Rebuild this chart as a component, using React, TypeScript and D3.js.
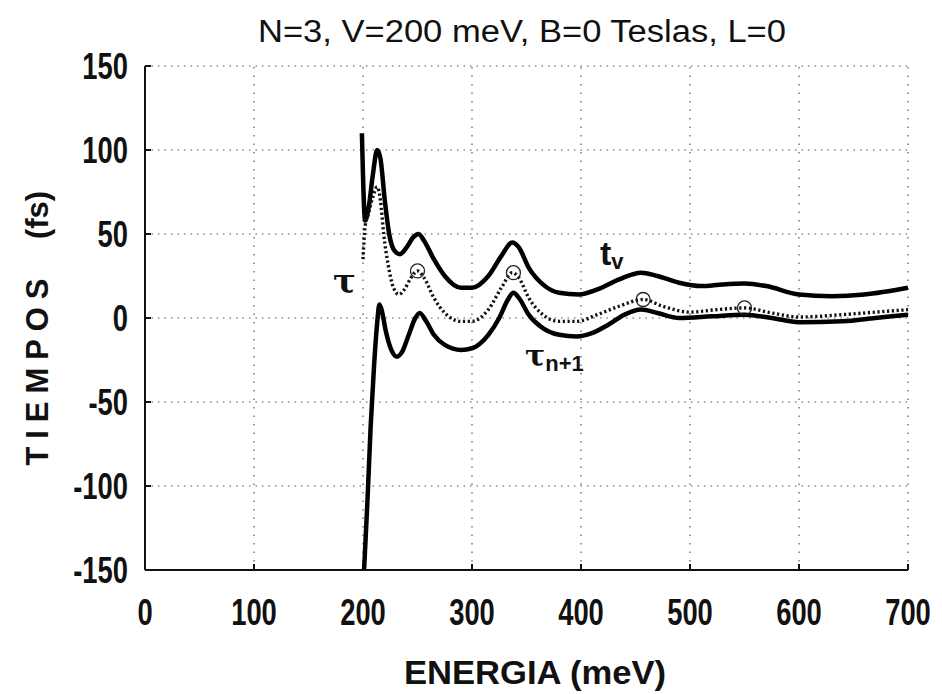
import React from "react";
import * as d3 from "d3";

// curva superior t_v (meV, fs)
const tvE = [199, 202, 205, 209, 213, 216, 220, 224, 229, 234, 240, 246, 251, 256, 265, 275, 290, 300, 315, 327, 337, 343, 352, 365, 380, 398, 415, 435, 455, 470, 490, 510, 530, 550, 570, 600, 630, 660, 700];
const tvT = [110, 58, 65, 85, 100, 95, 70, 50, 40, 38, 42, 48, 50, 46, 35, 25, 18, 18, 25, 37, 45, 42, 30, 20, 15, 14, 17, 23, 27, 25, 21, 19, 20, 20.5, 19, 14, 13, 14, 18];

// curva punteada tau
const tauE = [200, 202, 205, 209, 213, 216, 219, 223, 228, 233, 238, 244, 250, 256, 265, 275, 290, 300, 315, 327, 337, 343, 352, 365, 380, 396, 415, 435, 457, 475, 500, 525, 550, 575, 600, 640, 670, 700];
const tauT = [35, 55, 62, 72, 78, 70, 50, 32, 18, 14, 17, 24, 28, 24, 12, 3, -2, -2, 5, 18, 27, 24, 12, 2, -2, -2, 2, 7, 11, 7, 3.5, 5, 6, 3, 0.6, 2, 3.5, 5];

// curva inferior tau_{n+1}
const tnE = [201, 204, 207, 210, 213, 215, 217, 221, 226, 231, 236, 242, 248, 252, 258, 265, 275, 290, 300, 315, 325, 333, 338, 343, 352, 365, 380, 396, 410, 425, 440, 455, 470, 490, 520, 550, 575, 600, 640, 670, 700];
const tnT = [-150, -110, -65, -30, -3, 8, 5, -8, -19, -23, -20, -10, 0, 3, -2, -10, -16, -19, -18, -10, 0, 11, 15, 12, 2, -6, -10, -11, -9, -4, 2, 5, 3, 0, 1, 2, 0, -2.5, -2, 0, 2];

// circulos sobre tau
const circE = [250, 338, 457, 550];
const circT = [28, 27, 11, 6];

const xTicks = [0, 100, 200, 300, 400, 500, 600, 700];
const yTicks = [-150, -100, -50, 0, 50, 100, 150];

const sans = "'Liberation Sans', Arial, sans-serif";
const SX = 0.74; // fuente estrecha simulada

export default function App() {
  const W = 942;
  const H = 694;
  const m = { left: 145, right: 34, top: 66, bottom: 124 };
  const x = d3.scaleLinear().domain([0, 700]).range([m.left, W - m.right]);
  const y = d3.scaleLinear().domain([-150, 150]).range([H - m.bottom, m.top]);

  const mk = (es: number[], ts: number[]) =>
    d3
      .line<number>()
      .x((e) => x(e))
      .y((_, i) => y(ts[i]))
      .curve(d3.curveMonotoneX)(es) || "";

  return (
    <svg width={W} height={H} style={{ position: "absolute", left: 0, top: 0, background: "#fff" }}>
      <rect width={W} height={H} fill="#fff" />
      {/* grid */}
      {xTicks.slice(1).map((t) => (
        <line key={"gx" + t} x1={x(t)} x2={x(t)} y1={y(-150)} y2={y(150)} stroke="#555" strokeWidth={1.2} strokeDasharray="1.5,7" />
      ))}
      {yTicks.slice(1).map((t) => (
        <line key={"gy" + t} x1={x(0)} x2={x(700)} y1={y(t)} y2={y(t)} stroke="#555" strokeWidth={1.2} strokeDasharray="1.5,5" />
      ))}
      {/* ejes */}
      <line x1={x(0)} x2={x(0)} y1={y(150)} y2={y(-150)} stroke="#111" strokeWidth={2} />
      <line x1={x(0)} x2={x(700)} y1={y(-150)} y2={y(-150)} stroke="#111" strokeWidth={2} />
      {yTicks.map((t) => (
        <line key={"ty" + t} x1={x(0)} x2={x(0) + 6} y1={y(t)} y2={y(t)} stroke="#111" strokeWidth={2} />
      ))}
      {xTicks.map((t) => (
        <line key={"tx" + t} x1={x(t)} x2={x(t)} y1={y(-150)} y2={y(-150) - 6} stroke="#111" strokeWidth={2} />
      ))}
      {/* curvas */}
      <path d={mk(tvE, tvT)} fill="none" stroke="#000" strokeWidth={4.5} strokeLinejoin="round" />
      <path d={mk(tnE, tnT)} fill="none" stroke="#000" strokeWidth={4.5} strokeLinejoin="round" />
      <path d={mk(tauE, tauT)} fill="none" stroke="#111" strokeWidth={3.4} strokeDasharray="2.2,2.6" />
      {circE.map((e, i) => (
        <circle key={"c" + e} cx={x(e)} cy={y(circT[i])} r={7} fill="none" stroke="#222" strokeWidth={1.3} />
      ))}
      {/* etiquetas de ticks */}
      {yTicks.map((t) => (
        <text key={"ly" + t} transform={`translate(128,${y(t) + 13}) scale(${SX},1)`} textAnchor="end" fontFamily={sans} fontWeight="bold" fontSize={37} fill="#111">
          {t}
        </text>
      ))}
      {xTicks.map((t) => (
        <text key={"lx" + t} transform={`translate(${x(t)},625) scale(${SX},1)`} textAnchor="middle" fontFamily={sans} fontWeight="bold" fontSize={37} fill="#111">
          {t}
        </text>
      ))}
      {/* titulos */}
      <text x={522} y={42} textAnchor="middle" fontFamily={sans} fontSize={31} fill="#111" textLength={528} lengthAdjust="spacingAndGlyphs">
        N=3, V=200 meV, B=0 Teslas, L=0
      </text>
      <text x={535} y={684} textAnchor="middle" fontFamily={sans} fontSize={34} fontWeight="bold" fill="#111" textLength={262} lengthAdjust="spacingAndGlyphs">
        ENERGIA (meV)
      </text>
      <text transform="translate(48,372) rotate(-90)" textAnchor="middle" fontFamily={sans} fontSize={31} fontWeight="bold" fill="#111" textLength={187} lengthAdjust="spacing">
        TIEMPOS
      </text>
      <text transform="translate(48,215) rotate(-90)" textAnchor="middle" fontFamily={sans} fontSize={31} fontWeight="bold" fill="#111">
        (fs)
      </text>
      {/* etiquetas de curvas */}
      <text x={333} y={293} fontFamily="'DejaVu Serif', serif" fontWeight="bold" fontSize={34} fill="#111">τ</text>
      <text x={600} y={265} fontFamily={sans} fontWeight="bold" fontSize={34} fill="#111">
        t<tspan fontSize={22} dy={4}>v</tspan>
      </text>
      <text x={525} y={366} fontFamily="'DejaVu Serif', serif" fontWeight="bold" fontSize={30} fill="#111">
        τ<tspan fontFamily={sans} fontSize={22} dy={5}>n+1</tspan>
      </text>
    </svg>
  );
}
